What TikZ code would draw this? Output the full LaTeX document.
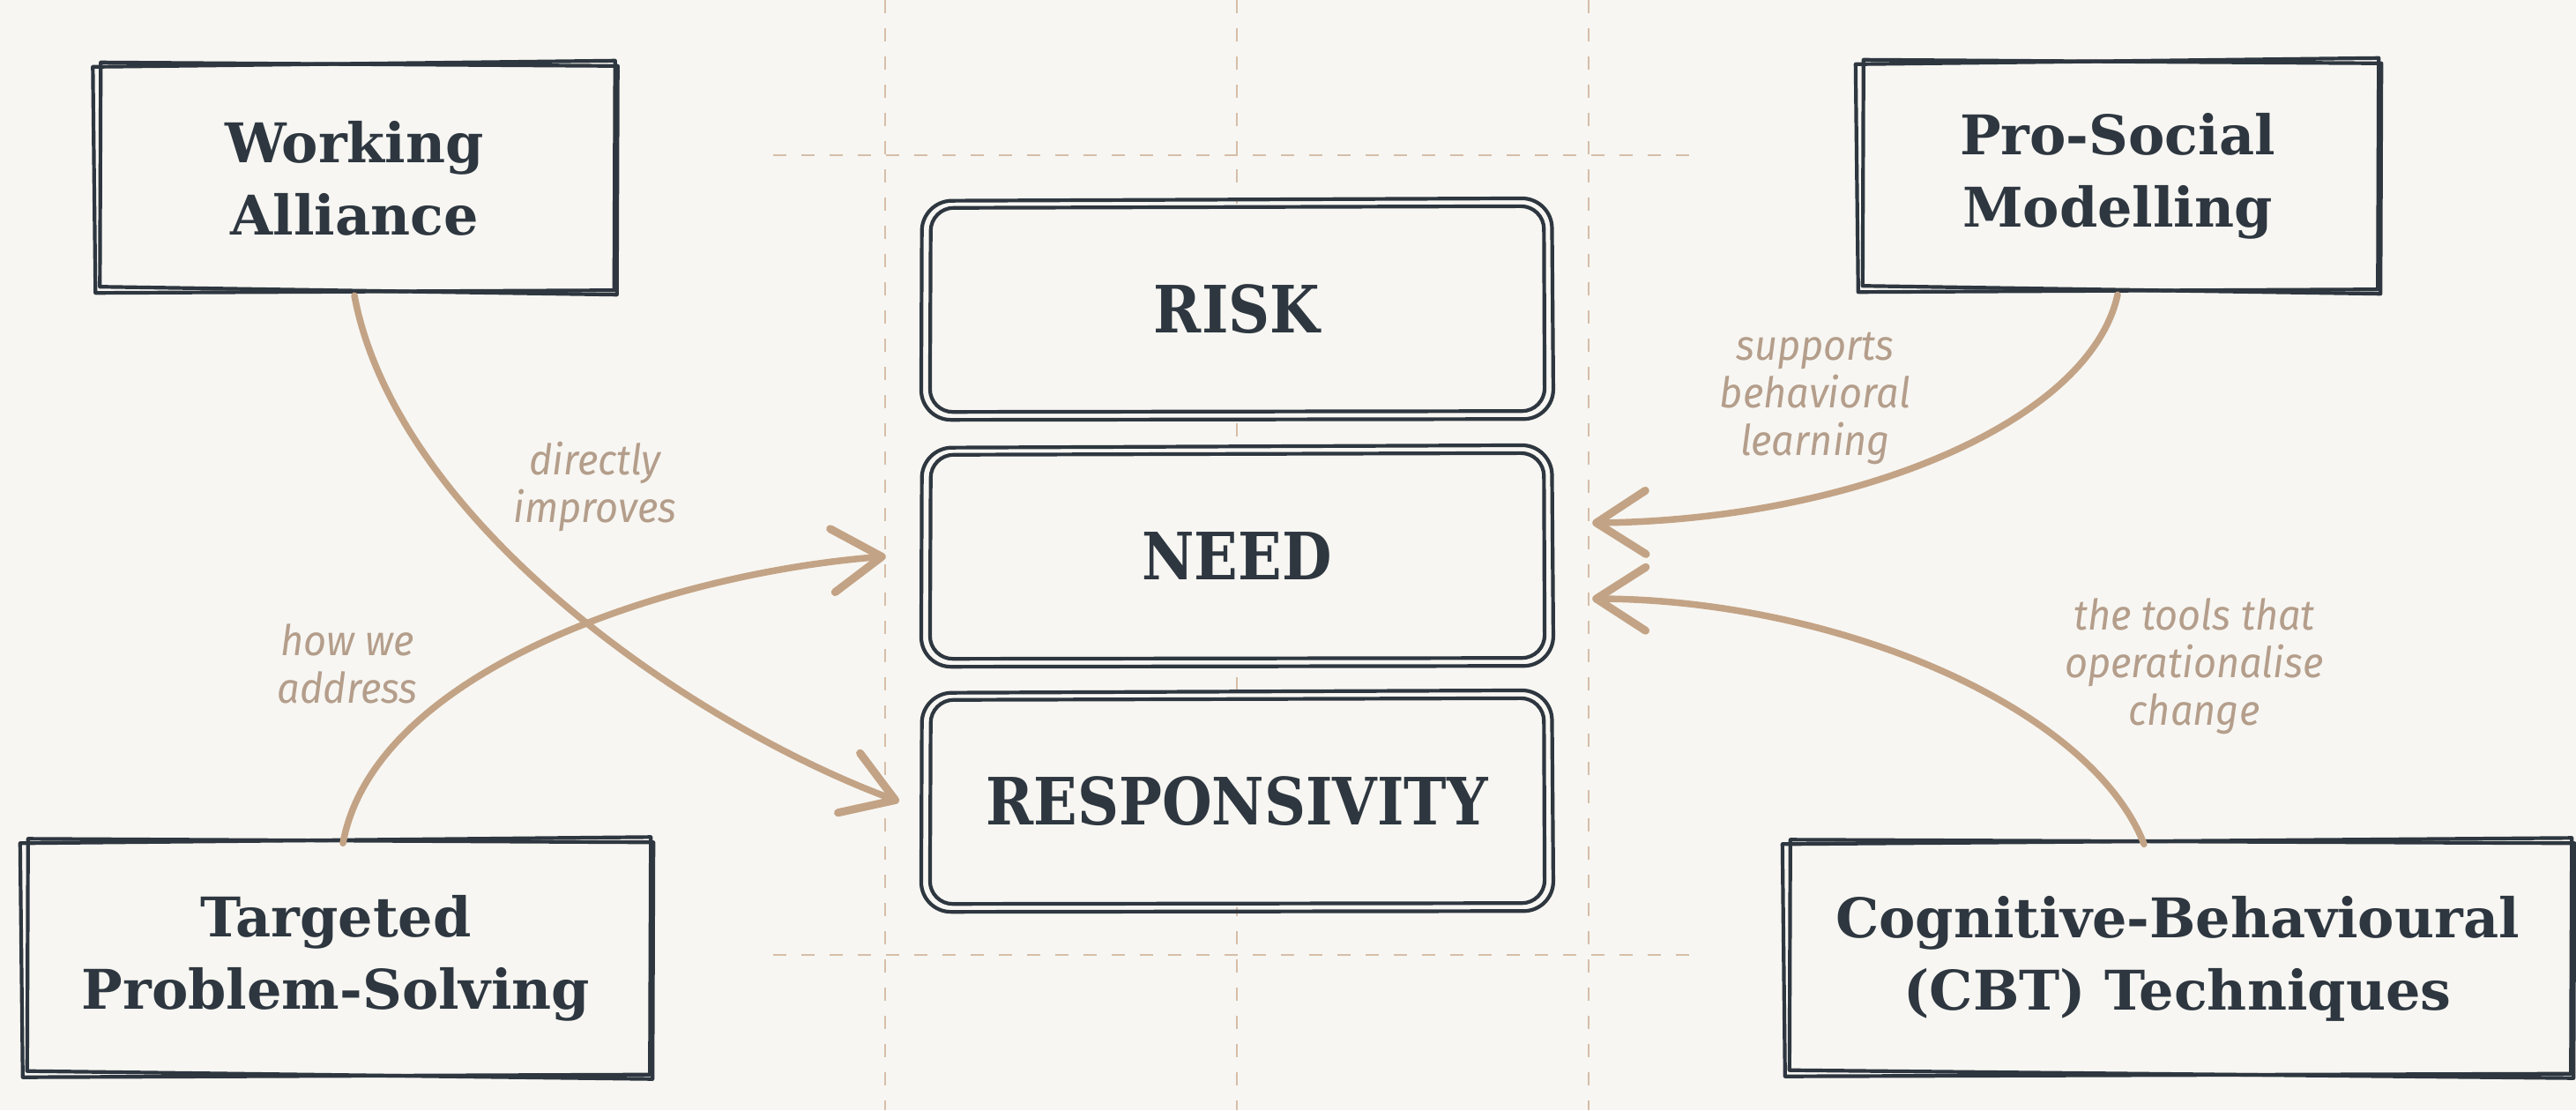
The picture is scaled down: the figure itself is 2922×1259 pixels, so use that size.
\documentclass[tikz,border=0pt]{standalone}
\usepackage{fontspec}
\usetikzlibrary{arrows.meta}

\newfontfamily\boxfont{DejaVu Serif}
\newfontfamily\rnrfont{DejaVu Serif}[FakeStretch=0.88]
\newfontfamily\notefont{Fira Sans}[FakeStretch=0.94]

\definecolor{paper}{HTML}{F7F6F2}
\definecolor{ink}{HTML}{2E3740}
\definecolor{tan}{HTML}{C3A385}
\definecolor{notetan}{HTML}{B49E8B}
\definecolor{guidetan}{HTML}{D6BEA9}

\tikzset{
  sidebox/.style={fill=paper, inner sep=0pt, align=center, text=ink,
    font=\boxfont\bfseries\fontsize{62}{82}\selectfont},
  rnrbox/.style={fill=paper, inner sep=0pt, text=ink,
    minimum width=706pt, minimum height=240pt,
    font=\rnrfont\bfseries\fontsize{74}{80}\selectfont},
  note/.style={inner sep=0pt, align=center, text=notetan,
    font=\notefont\itshape\fontsize{48}{54}\selectfont},
  inkline/.style={draw=ink, line width=4.2pt, line cap=round, line join=round},
  guideline/.style={draw=guidetan, line width=2.6pt, dash pattern=on 15pt off 17pt},
  link/.style={draw=tan, line width=7.5pt, line cap=round,
    -{Straight Barb[length=56pt,width=72pt,line width=9pt,round]}},
}

% hand-drawn double rectangle around a node
\newcommand\roughrect[1]{%
  \draw[inkline] ([shift={(-6,-2)}]#1.north west) -- ([shift={(5,-9)}]#1.north east)
    -- ([shift={(4,3)}]#1.south east) -- ([shift={(-3,6)}]#1.south west) -- cycle;
  \draw[inkline] ([shift={(3,-7)}]#1.north west) -- ([shift={(8,-3)}]#1.north east)
    -- ([shift={(7,8)}]#1.south east) -- ([shift={(2,-1)}]#1.south west) -- cycle;
}
% hand-drawn double rounded rectangle around a node
\newcommand\roughround[1]{%
  \draw[inkline, rounded corners=34pt] ([shift={(-4,-3)}]#1.north west)
    -- ([shift={(4,-6)}]#1.north east) -- ([shift={(6,4)}]#1.south east)
    -- ([shift={(-5,5)}]#1.south west) -- cycle;
  \draw[inkline, rounded corners=26pt] ([shift={(6,5)}]#1.north west)
    -- ([shift={(-5,3)}]#1.north east) -- ([shift={(-4,-5)}]#1.south east)
    -- ([shift={(5,-4)}]#1.south west) -- cycle;
}

\begin{document}
\begin{tikzpicture}[x=1pt, y=-1pt]
  \fill[paper] (0,0) rectangle (2922,1259);
  \useasboundingbox (0,0) rectangle (2922,1259);

  % dashed guide grid
  \foreach \gx in {1004,1403,1802}
    \draw[guideline] (\gx,0) -- (\gx,1259);
  \draw[guideline] (877,176) -- (1929,176);
  \draw[guideline] (877,1083) -- (1929,1083);

  % central RNR column
  \node[rnrbox] (risk) at (1403,351) {RISK};
  \node[rnrbox] (need) at (1403,631) {NEED};
  \node[rnrbox] (resp) at (1403,909) {RESPONSIVITY};
  \roughround{risk}
  \roughround{need}
  \roughround{resp}

  % practice boxes
  \node[sidebox, minimum width=581pt, minimum height=248pt] (wa) at (402,202)
    {Working\\Alliance};
  \node[sidebox, minimum width=582pt, minimum height=250pt] (ps) at (2402,200)
    {Pro-Social\\Modelling};
  \node[sidebox, minimum width=704pt, minimum height=257pt] (tps) at (381,1087)
    {Targeted\\Problem-Solving};
  \node[sidebox, minimum width=884pt, minimum height=255pt] (cbt) at (2470,1087)
    {Cognitive-Behavioural\\(CBT) Techniques};
  \roughrect{wa}
  \roughrect{ps}
  \roughrect{tps}
  \roughrect{cbt}

  % connectors
  \draw[link] ([yshift=-9pt]wa.south) .. controls (450,590) and (780,820)
    .. ([xshift=-30pt]resp.west);
  \draw[link] ([xshift=8pt,yshift=2pt]tps.north) .. controls (425,760) and (760,650)
    .. ([xshift=-45pt]need.west);
  \draw[link] ([yshift=-9pt]ps.south) .. controls (2370,480) and (2100,590)
    .. ([xshift=50pt,yshift=38pt]need.east);
  \draw[link] ([xshift=-38pt,yshift=2pt]cbt.north) .. controls (2370,800) and (2080,680)
    .. ([xshift=50pt,yshift=-48pt]need.east);

  % connector labels
  \node[note] (l1) at (675,552) {directly\\improves};
  \node[note] (l2) at (394,753) {how we\\address};
  \node[note] (l3) at (2059,452) {supports\\behavioral\\learning};
  \node[note] (l4) at (2489,756) {the tools that\\operationalise\\change};
\end{tikzpicture}
\end{document}
